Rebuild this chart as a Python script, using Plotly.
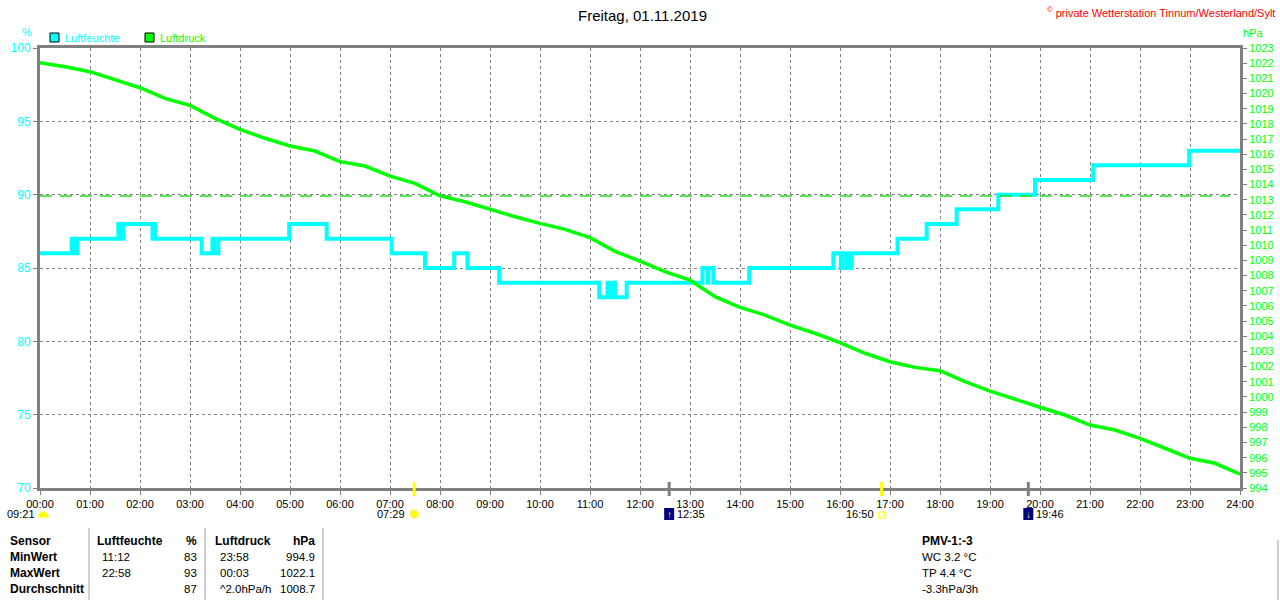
import plotly.graph_objects as go

# --- data --------------------------------------------------------------
# Luftfeuchte (%) as step changes: time of change, new value
hum_times = ["00:00", "00:38", "00:39", "00:41", "00:43", "00:45", "01:34", "01:38",
             "01:40", "02:15", "02:16", "02:18", "03:14", "03:27", "03:29", "03:34",
             "04:59", "05:44", "07:02", "07:42", "08:17", "08:33", "09:11", "11:11",
             "11:21", "11:23", "11:28", "11:30", "11:44", "13:15", "13:21", "13:22",
             "13:28", "14:11", "15:52", "16:01", "16:03", "16:08", "16:09", "16:13",
             "16:14", "17:09", "17:44", "18:20", "19:10", "19:54", "21:04", "22:59",
             "24:00"]
hum_values = [86, 87, 86, 87, 86, 87, 88, 87,
              88, 87, 88, 87, 86, 87, 86, 87,
              88, 87, 86, 85, 86, 85, 84, 83,
              84, 83, 84, 83, 84, 85, 84, 85,
              84, 85, 86, 85, 86, 85, 86, 85,
              86, 87, 88, 89, 90, 91, 92, 93,
              93]

# Luftdruck (hPa), half-hourly
press_times = ["00:00", "00:30", "01:00", "01:30", "02:00", "02:30", "03:00", "03:30",
               "04:00", "04:30", "05:00", "05:30", "06:00", "06:30", "07:00", "07:30",
               "08:00", "08:30", "09:00", "09:30", "10:00", "10:30", "11:00", "11:30",
               "12:00", "12:30", "13:00", "13:30", "14:00", "14:30", "15:00", "15:30",
               "16:00", "16:30", "17:00", "17:30", "18:00", "18:30", "19:00", "19:30",
               "20:00", "20:30", "21:00", "21:30", "22:00", "22:30", "23:00", "23:30",
               "24:00"]
press_values = [1022.03, 1021.77, 1021.44, 1020.89, 1020.38, 1019.68, 1019.22, 1018.36,
                1017.64, 1017.05, 1016.54, 1016.21, 1015.51, 1015.22, 1014.56, 1014.08,
                1013.25, 1012.87, 1012.37, 1011.88, 1011.44, 1011.05, 1010.50, 1009.60,
                1008.95, 1008.26, 1007.71, 1006.61, 1005.91, 1005.40, 1004.74, 1004.20,
                1003.58, 1002.88, 1002.32, 1001.95, 1001.73, 1001.01, 1000.39, 999.84,
                999.32, 998.81, 998.15, 997.82, 997.27, 996.62, 995.96, 995.63,
                994.92]

normal_pressure = 1013.25
hour_labels = ["%02d:00" % h for h in range(25)]

sunrise, sunset = "07:29", "16:50"
moonrise, moonset = "12:35", "19:46"
day_length = "09:21"

table_rows = [
    ["Sensor", "Luftfeuchte", "%", "Luftdruck", "hPa"],
    ["MinWert", "11:12", "83", "23:58", "994.9"],
    ["MaxWert", "22:58", "93", "00:03", "1022.1"],
    ["Durchschnitt", "", "87", "^2.0hPa/h", "1008.7"],
]
extra_lines = ["PMV-1:-3", "WC 3.2 °C", "TP 4.4 °C", "-3.3hPa/3h"]

CYAN = "#00FFFF"
GREEN = "#00FF00"
GRAY = "#808080"
YELLOW = "#FFFF00"
NAVY = "#000080"
FONT = "Liberation Sans"


def hours(t):
    h, m = t.split(":")
    return int(h) + int(m) / 60


# pixel -> paper helpers (plot area is 40..1240 x 48..488)
def px(x):
    return (x - 40) / 1200


def py(y):
    return (488 - y) / 440


HPX = 24 / 1200  # hours per pixel

fig = go.Figure()

fig.add_trace(go.Scatter(
    x=[hours(t) for t in hum_times], y=hum_values, mode="lines",
    line=dict(color=CYAN, width=4, shape="hv"), name="Luftfeuchte",
    yaxis="y"))

fig.add_trace(go.Scatter(
    x=[hours(t) for t in press_times], y=press_values, mode="lines",
    line=dict(color=GREEN, width=3.5), name="Luftdruck", yaxis="y2"))

# standard pressure reference line
fig.add_trace(go.Scatter(
    x=[0, 23.8], y=[normal_pressure, normal_pressure], mode="lines",
    line=dict(color="#22DD22", width=1.5, dash="12px,8px"), yaxis="y2",
    hoverinfo="skip"))

shapes = []
annotations = []

# legend boxes
for x0, col, label in [(50, CYAN, "Luftfeuchte"), (145, GREEN, "Luftdruck")]:
    shapes.append(dict(type="rect", xref="paper", yref="paper",
                       x0=px(x0), x1=px(x0 + 9), y0=py(42), y1=py(33),
                       fillcolor=col, line=dict(color="black", width=1)))
    annotations.append(dict(xref="paper", yref="paper", x=px(x0 + 13), y=py(38),
                            text=label, showarrow=False, xanchor="left",
                            yanchor="middle", font=dict(color=col, size=11)))

# sun / moon markers on the time axis
for t, col in [(sunrise, YELLOW), (sunset, YELLOW),
               (moonrise, GRAY), (moonset, GRAY)]:
    shapes.append(dict(type="line", xref="x", yref="paper",
                       x0=hours(t), x1=hours(t), y0=py(496), y1=py(482),
                       line=dict(color=col, width=3)))

# icons below the axis
# day length: small yellow dome
shapes.append(dict(type="path", xref="paper", yref="paper",
                   path="M %f,%f L %f,%f Q %f,%f %f,%f L %f,%f Z" % (
                       px(39), py(517), px(39), py(515), px(43.5), py(508),
                       px(48), py(515), px(48), py(517)),
                   fillcolor=YELLOW, line=dict(color=YELLOW, width=1)))
# sunrise: yellow sun
sr = hours(sunrise)
shapes.append(dict(type="circle", xref="x", yref="paper",
                   x0=sr - 4 * HPX, x1=sr + 4 * HPX, y0=py(518), y1=py(510),
                   fillcolor=YELLOW, line=dict(color="#FFF080", width=2)))
# sunset: hollow yellow square
ss = hours(sunset)
shapes.append(dict(type="rect", xref="x", yref="paper",
                   x0=ss - 3 * HPX, x1=ss + 3 * HPX, y0=py(518), y1=py(512),
                   line=dict(color=YELLOW, width=1)))
# moon rise / set: navy tiles with yellow arrow
for t, arrow in [(moonrise, "↑"), (moonset, "↓")]:
    h = hours(t)
    shapes.append(dict(type="rect", xref="x", yref="paper",
                       x0=h - 5 * HPX, x1=h + 5 * HPX, y0=py(520), y1=py(508),
                       fillcolor=NAVY, line=dict(width=0)))
    annotations.append(dict(xref="x", yref="paper", x=h, y=py(514), text="<b>%s</b>" % arrow,
                            showarrow=False, xanchor="center", yanchor="middle",
                            font=dict(color=YELLOW, size=10)))

row2 = py(514)
for x, xref, text, anchor in [
        (px(37), "paper", day_length, "right"),
        (sr - 7 * HPX, "x", sunrise, "right"),
        (ss - 6 * HPX, "x", sunset, "right"),
        (hours(moonrise) + 6 * HPX, "x", moonrise, "left"),
        (hours(moonset) + 6 * HPX, "x", moonset, "left")]:
    annotations.append(dict(xref=xref, yref="paper", x=x, y=row2, text=text,
                            showarrow=False, xanchor=anchor, yanchor="middle",
                            font=dict(color="black", size=11)))

# titles and unit labels
annotations += [
    dict(xref="paper", yref="paper", x=px(642), y=py(15), text="Freitag, 01.11.2019",
         showarrow=False, xanchor="center", yanchor="middle",
         font=dict(size=15, color="black")),
    dict(xref="paper", yref="paper", x=px(1277), y=py(12),
         text="<sup>©</sup> private Wetterstation Tinnum/Westerland/Sylt",
         showarrow=False, xanchor="right", yanchor="middle",
         font=dict(size=11, color="#FF0000")),
    dict(xref="paper", yref="paper", x=px(27), y=py(32), text="%",
         showarrow=False, xanchor="center", yanchor="middle",
         font=dict(size=11, color=CYAN)),
    dict(xref="paper", yref="paper", x=px(1241), y=py(33), text="hPa",
         showarrow=False, xanchor="left", yanchor="middle",
         font=dict(size=11, color=GREEN)),
]

# statistics table
col_x = [(8, "left"), (100, "left"), (199, "right"), (218, "left"), (317, "right")]
row_y = [541, 557, 573, 589]
for r, row in enumerate(table_rows):
    for c, cell in enumerate(row):
        if not cell:
            continue
        x, anchor = col_x[c]
        if r == 0 and c in (1, 3):
            x -= 5
        bold = r == 0 or c == 0
        annotations.append(dict(
            xref="paper", yref="paper", x=px(x), y=py(row_y[r]),
            text="<b>%s</b>" % cell if bold else cell, showarrow=False,
            xanchor=anchor, yanchor="middle",
            font=dict(size=12 if bold else 11.5, color="black")))
for i, line in enumerate(extra_lines):
    annotations.append(dict(
        xref="paper", yref="paper", x=px(920), y=py(row_y[i]),
        text="<b>%s</b>" % line if i == 0 else line, showarrow=False,
        xanchor="left", yanchor="middle",
        font=dict(size=12 if i == 0 else 11.5, color="black")))
for x in (89, 205, 323):
    shapes.append(dict(type="line", xref="paper", yref="paper",
                       x0=px(x), x1=px(x), y0=py(528), y1=py(600),
                       line=dict(color="#A0A0A0", width=1)))
shapes.append(dict(type="line", xref="paper", yref="paper",
                   x0=px(1278), x1=px(1278), y0=py(540), y1=py(600),
                   line=dict(color="#A0A0A0", width=1)))

fig.update_layout(
    width=1280, height=600,
    margin=dict(l=40, r=40, t=48, b=112),
    paper_bgcolor="white", plot_bgcolor="white",
    font=dict(family=FONT, size=11, color="black"),
    showlegend=False,
    shapes=shapes,
    annotations=annotations,
    xaxis=dict(range=[0, 24], tickvals=list(range(25)), ticktext=hour_labels,
               showgrid=True, gridcolor=GRAY, griddash="3px,3px", gridwidth=1,
               showline=True, linecolor=GRAY, linewidth=3, mirror=True,
               ticks="outside", ticklen=4, tickcolor=GRAY, zeroline=False,
               tickfont=dict(size=11, color="black"), automargin=False),
    yaxis=dict(range=[70, 100], dtick=5, showgrid=True, gridcolor=GRAY,
               griddash="3px,3px", gridwidth=1, showline=True, linecolor=GRAY,
               linewidth=3, ticks="outside", ticklen=4, tickcolor=GRAY,
               zeroline=False, tickfont=dict(size=12, color=CYAN),
               automargin=False),
    yaxis2=dict(range=[994, 1023], dtick=1, overlaying="y", side="right",
                showgrid=False, showline=True, linecolor=GRAY, linewidth=3,
                ticks="outside", ticklen=4, tickcolor=GRAY, zeroline=False,
                tickfont=dict(size=11, color=GREEN), automargin=False),
)

# page body margin off so the 1280x600 figure fills the window exactly
fig.write_html("out.html", config={"displayModeBar": False},
               post_script="document.body.style.margin='0';")
